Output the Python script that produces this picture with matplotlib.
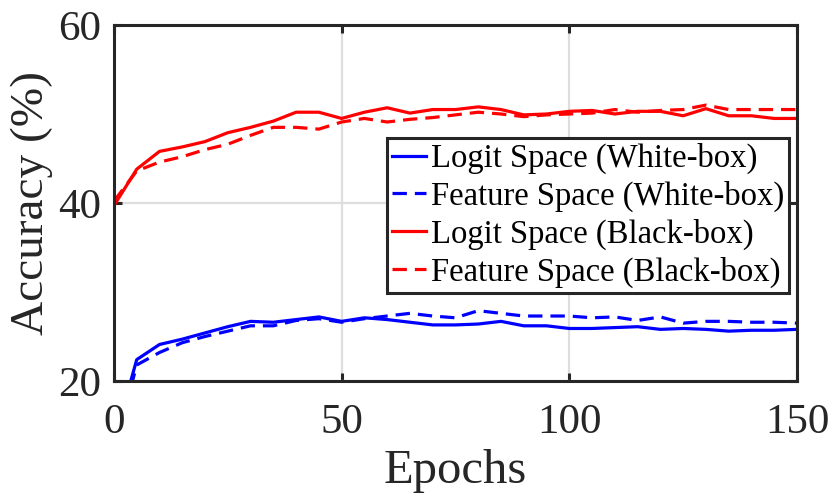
import matplotlib
matplotlib.use("Agg")
import matplotlib.pyplot as plt

plt.rcParams['font.family'] = ['Liberation Serif', 'DejaVu Serif']

epochs = list(range(0, 155, 5))

logit_white = [13.2, 22.4, 24.1, 24.7, 25.4, 26.1, 26.7, 26.6, 26.9, 27.2,
               26.7, 27.1, 26.9, 26.6, 26.3, 26.3, 26.4, 26.7, 26.2, 26.2,
               25.9, 25.9, 26.0, 26.1, 25.8, 25.9, 25.8, 25.6, 25.7, 25.7, 25.8]
feature_white = [12.0, 21.8, 23.2, 24.3, 25.0, 25.6, 26.2, 26.2, 26.8, 27.0,
                 26.6, 27.0, 27.3, 27.6, 27.3, 27.1, 27.9, 27.6, 27.3, 27.3,
                 27.3, 27.1, 27.2, 26.8, 27.2, 26.5, 26.7, 26.7, 26.6, 26.6, 26.5]
logit_black = [39.7, 43.8, 45.8, 46.3, 46.9, 47.9, 48.5, 49.2, 50.2, 50.2,
               49.5, 50.2, 50.7, 50.1, 50.5, 50.5, 50.8, 50.5, 49.9, 50.0,
               50.3, 50.4, 50.0, 50.3, 50.3, 49.8, 50.6, 49.8, 49.8, 49.5, 49.5]
feature_black = [40.2, 43.6, 44.6, 45.2, 46.0, 46.6, 47.6, 48.5, 48.5, 48.3,
                 49.1, 49.5, 49.1, 49.4, 49.6, 49.9, 50.2, 50.0, 49.7, 49.9,
                 50.0, 50.1, 50.5, 50.2, 50.4, 50.5, 51.0, 50.5, 50.5, 50.5, 50.5]

labels = ["Logit Space (White-box)", "Feature Space (White-box)",
          "Logit Space (Black-box)", "Feature Space (Black-box)"]

fig = plt.figure(figsize=(8.3, 4.99), dpi=100)
ax = fig.add_axes([0.1373, 0.2365, 0.8229, 0.7134])

lw = 2.3
dash = (4.5, 2.5)
ax.plot(epochs, logit_white, color="#0000ff", lw=lw, label=labels[0])
ax.plot(epochs, feature_white, color="#0000ff", lw=lw, ls="--", dashes=dash, label=labels[1])
ax.plot(epochs, logit_black, color="#ff0000", lw=lw, label=labels[2])
ax.plot(epochs, feature_black, color="#ff0000", lw=lw, ls="--", dashes=dash, label=labels[3])

ax.set_xlim(0, 150)
ax.set_ylim(20, 60)
ax.set_xticks([0, 50, 100, 150])
ax.set_yticks([20, 40, 60])
ax.grid(True, color="#dedede", lw=1.6)
ax.set_axisbelow(True)

for s in ax.spines.values():
    s.set_color("#262626")
    s.set_linewidth(2.2)
ax.tick_params(direction="in", length=6, width=2.2, color="#262626",
               top=True, right=True, labelsize=31, labelcolor="#262626")
ax.tick_params(axis="x", pad=16)
ax.tick_params(axis="y", pad=9)

ax.set_xlabel("Epochs", fontsize=35, color="#262626", labelpad=5)
ax.set_ylabel("Accuracy (%)", fontsize=34, color="#262626", labelpad=4)

leg = ax.legend(loc="upper left", bbox_to_anchor=(0.3997, 0.682), fontsize=23.5,
                frameon=True, fancybox=False, framealpha=1, edgecolor="#262626",
                handlelength=1.05, handletextpad=0.15, borderpad=0.15,
                labelspacing=0.2, borderaxespad=0)
leg.get_frame().set_linewidth(2.2)

fig.savefig("out.png", dpi=100)
